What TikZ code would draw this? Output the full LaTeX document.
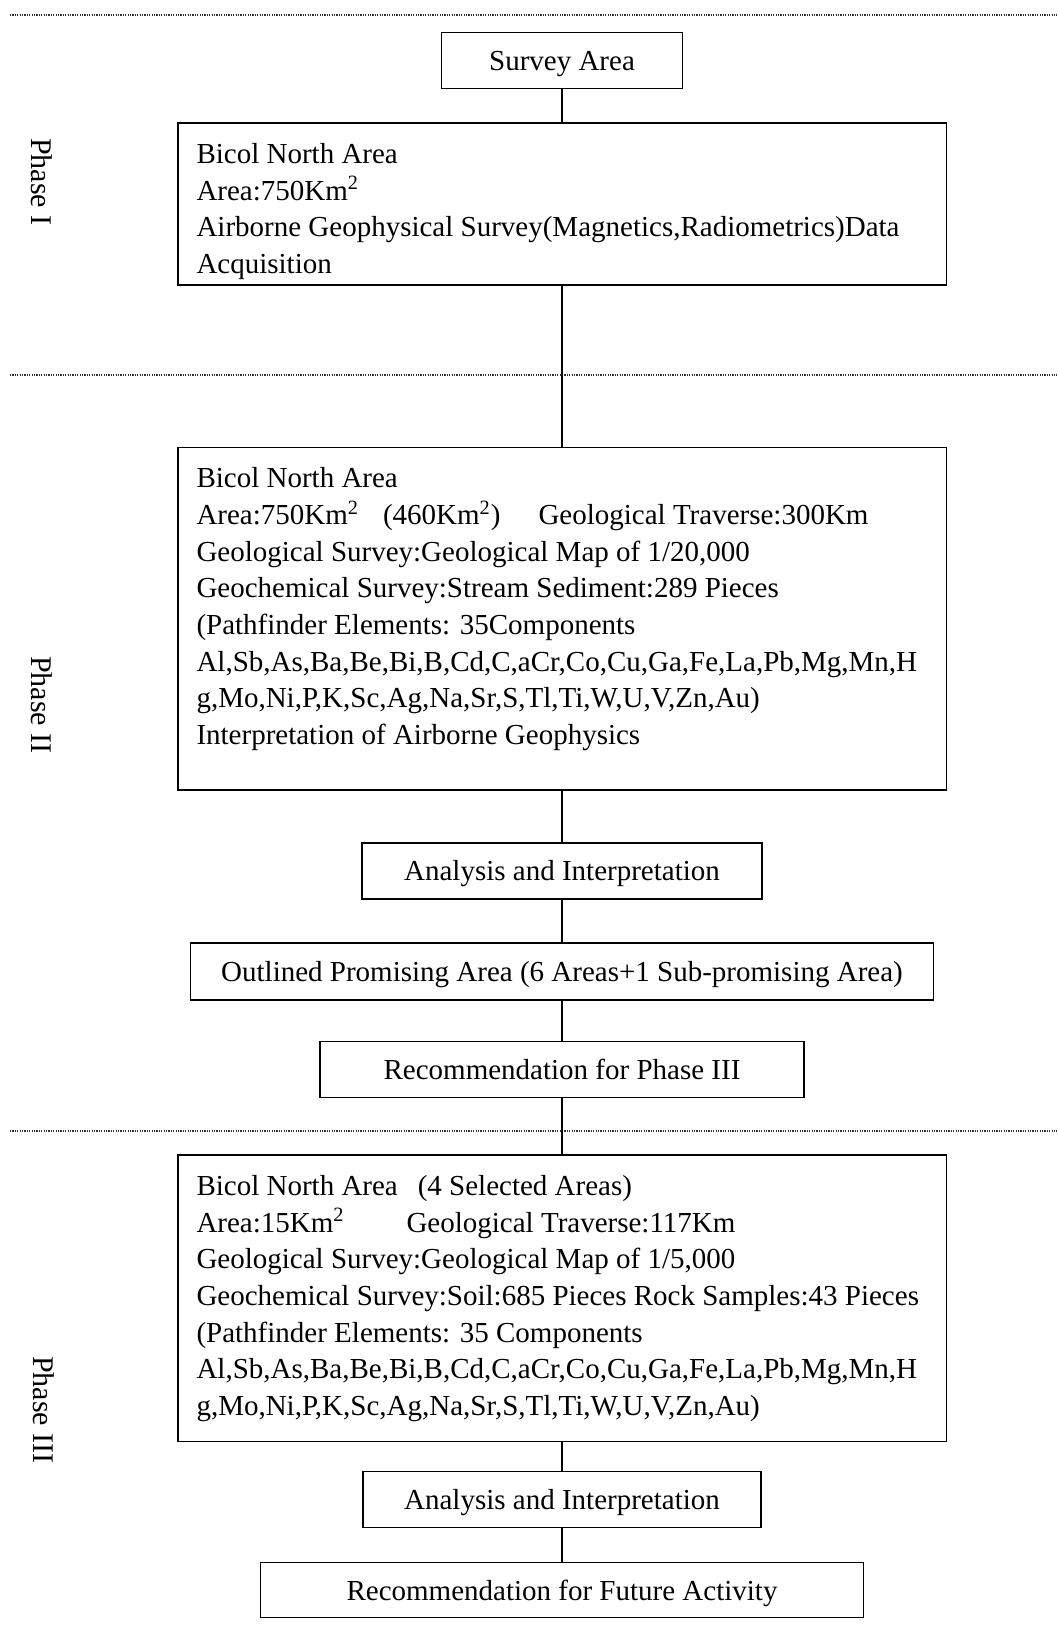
\documentclass[tikz,border=0pt]{standalone}
\usepackage{fontspec}
\setmainfont{Liberation Serif}
\begin{document}
\begin{tikzpicture}[
    x=0.5pt, y=-0.5pt,
    smallbox/.style={
        draw, line width=0.7pt, inner sep=0pt,
        minimum height=28pt, text height=10pt, text depth=0pt,
        font=\fontsize{14.5}{18.35}\selectfont
    },
    bigbox/.style={
        draw, line width=0.7pt, inner sep=0pt,
        minimum width=384.2pt
    },
    boxtext/.style={
        anchor=north west, inner sep=0pt, align=left,
        font=\fontsize{14.5}{18.35}\selectfont
    },
    phaselabel/.style={rotate=-90, font=\fontsize{15}{18}\selectfont},
    sep/.style={line width=0.8pt, black!80, dash pattern=on 0.6pt off 0.6pt},
    link/.style={line width=0.7pt}
]
\useasboundingbox (0,0) rectangle (1057,1651);

% Trennlinien zwischen den Phasen
\draw[sep] (10,15) -- (1057,15);
\draw[sep] (10,375) -- (1057,375);
\draw[sep] (10,1130.7) -- (1057,1130.7);

% Phasen
\node[phaselabel] (ph1) at (42,182)  {Phase I};
\node[phaselabel] (ph2) at (42,705)  {Phase II};
\node[phaselabel] (ph3) at (44,1410) {Phase III};

% Phase I
\node[smallbox, minimum width=120.25pt] (survey) at (562,60.5) {Survey Area};
\node[bigbox, minimum height=81pt] (p1) at (562,204) {};
\node[boxtext] (p1t) at ([xshift=9.5pt,yshift=-10.3pt]p1.north west)
    {Bicol North Area\\
     Area:750Km\textsuperscript{2}\\
     Airborne Geophysical Survey(Magnetics,Radiometrics)Data\\
     Acquisition};

% Phase II
\node[bigbox, minimum height=171.35pt] (p2) at (562,618.7) {};
\node[boxtext] (p2t) at ([xshift=9.5pt,yshift=-10.3pt]p2.north west)
    {Bicol North Area\\
     Area:750Km\textsuperscript{2}\hspace{12pt}(460Km\textsuperscript{2})\hspace{19pt}Geological Traverse:300Km\\
     Geological Survey:Geological Map of 1/20,000\\
     Geochemical Survey:Stream Sediment:289 Pieces\\
     (Pathfinder Elements: 35Components\\
     Al,Sb,As,Ba,Be,Bi,B,Cd,C,aCr,Co,Cu,Ga,Fe,La,Pb,Mg,Mn,H\\
     g,Mo,Ni,P,K,Sc,Ag,Na,Sr,S,Tl,Ti,W,U,V,Zn,Au)\\
     Interpretation of Airborne Geophysics};
\node[smallbox, minimum width=200.15pt] (ana1) at (562,870.9) {Analysis and Interpretation};
\node[smallbox, minimum width=371.5pt, minimum height=28.5pt] (outl) at (562,971.5)
    {Outlined Promising Area (6 Areas+1 Sub-promising Area)};
\node[smallbox, minimum width=242pt] (rec3) at (562,1069.2) {Recommendation for Phase III};

% Phase III
\node[bigbox, minimum height=143.35pt] (p3) at (562,1298.35) {};
\node[boxtext] (p3t) at ([xshift=9.5pt,yshift=-10.3pt]p3.north west)
    {Bicol North Area\hspace{10pt}(4 Selected Areas)\\
     Area:15Km\textsuperscript{2}\hspace{31pt}Geological Traverse:117Km\\
     Geological Survey:Geological Map of 1/5,000\\
     Geochemical Survey:Soil:685 Pieces Rock Samples:43 Pieces\\
     (Pathfinder Elements: 35 Components\\
     Al,Sb,As,Ba,Be,Bi,B,Cd,C,aCr,Co,Cu,Ga,Fe,La,Pb,Mg,Mn,H\\
     g,Mo,Ni,P,K,Sc,Ag,Na,Sr,S,Tl,Ti,W,U,V,Zn,Au)};
\node[smallbox, minimum width=198.85pt] (ana2) at (562,1499.7) {Analysis and Interpretation};
\node[smallbox, minimum width=301.25pt, minimum height=27.5pt] (fut) at (562,1590.2)
    {Recommendation for Future Activity};

% Verbindungen
\draw[link] (survey) -- (p1);
\draw[link] (p1) -- (p2);
\draw[link] (p2) -- (ana1);
\draw[link] (ana1) -- (outl);
\draw[link] (outl) -- (rec3);
\draw[link] (rec3) -- (p3);
\draw[link] (p3) -- (ana2);
\draw[link] (ana2) -- (fut);

\end{tikzpicture}
\end{document}
